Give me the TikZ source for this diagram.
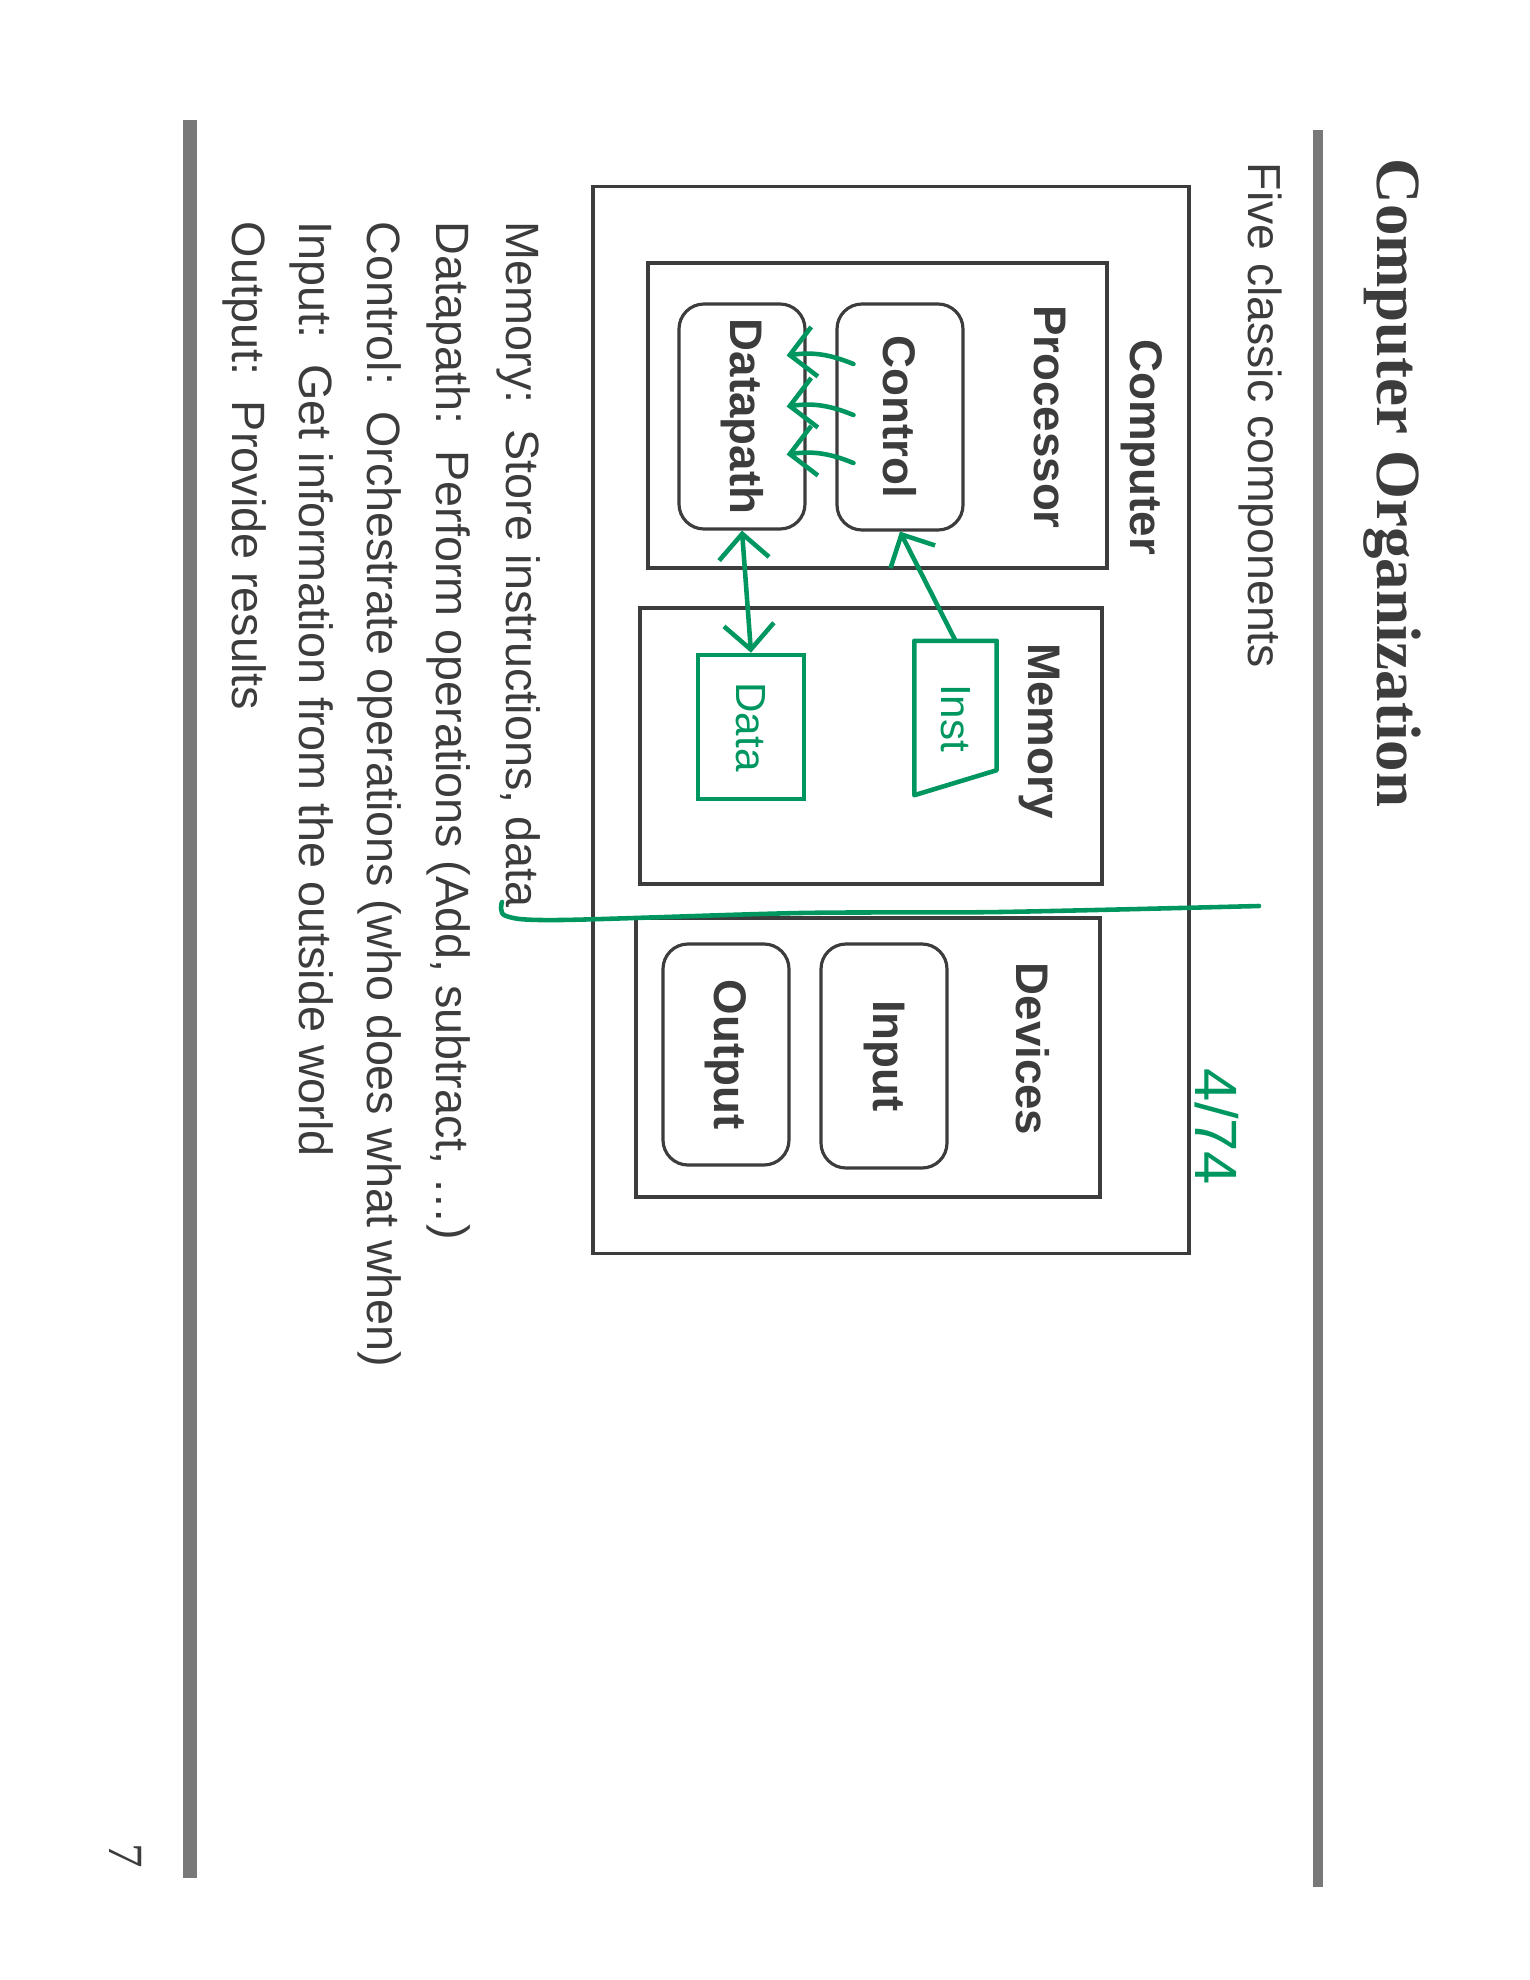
\documentclass[tikz,border=0pt]{standalone}
\usepackage{fontspec}
\setmainfont{Liberation Sans}
\newfontfamily\titlefont{Liberation Serif}
\usetikzlibrary{calc,arrows.meta}

\definecolor{ink}{RGB}{60,60,60}
\definecolor{marker}{RGB}{0,150,95}
\definecolor{bargray}{RGB}{120,120,120}

\tikzset{
  unit/.style={draw=ink,line width=0.9pt,rectangle,inner sep=0pt},
  part/.style={unit,rounded corners=2.5mm,text=ink,font=\fontsize{13}{15}\selectfont\bfseries},
  boxname/.style={text=ink,font=\fontsize{13}{15}\selectfont\bfseries,inner sep=0pt},
  textline/.style={text=ink,font=\fontsize{13.3}{16}\selectfont,anchor=base west,inner sep=0pt},
  hand/.style={draw=marker,line width=1.3pt,line cap=round,line join=round},
  handarrow/.style={hand,-{Straight Barb[length=2.5mm,width=5mm]}},
  handtext/.style={text=marker,font=\fontsize{12}{14}\selectfont,inner sep=0pt}
}

\begin{document}
\begin{tikzpicture}[x=1cm,y=1cm,rotate=-90,transform shape]
\useasboundingbox (0,0) rectangle (19.8,15.3);

% slide header
\node[anchor=base west,inner sep=0pt,text=ink,font=\titlefont\bfseries\fontsize{17.9}{20}\selectfont] (title) at (1.58,13.77) {Computer Organization};
\draw[line width=2.9pt,draw=bargray] (1.30,13.18) -- (18.87,13.18);
\node[anchor=west,inner sep=0pt,text=ink,font=\fontsize{13.2}{16}\selectfont] (intro) at (1.62,12.60) {Five classic components};

% the five components
\node[unit,minimum width=10.67cm,minimum height=5.96cm] (computer) at (7.2,8.91) {};
\node[boxname] (computerlbl) at (4.47,11.42) {Computer};

\node[unit,minimum width=3.05cm,minimum height=4.59cm] (processor) at (4.155,8.775) {};
\node[boxname] (processorlbl) at (4.17,10.50) {Processor};
\node[part,minimum width=2.26cm,minimum height=1.26cm] (control) at (4.17,9.0) {Control};
\node[part,minimum width=2.25cm,minimum height=1.26cm] (datapath) at (4.165,7.42) {Datapath};

\node[unit,minimum width=2.76cm,minimum height=4.62cm] (memory) at (7.46,8.71) {};
\node[boxname] (memorylbl) at (7.31,10.39) {Memory};

\node[unit,minimum width=2.79cm,minimum height=4.64cm] (devices) at (10.575,8.68) {};
\node[boxname] (deviceslbl) at (10.49,10.33) {Devices};
\node[part,minimum width=2.24cm,minimum height=1.26cm] (input) at (10.56,8.84) {Input};
\node[part,minimum width=2.21cm,minimum height=1.26cm] (output) at (10.545,7.26) {Output};

% notes in green
\node[handtext,minimum width=1.53cm,minimum height=0.81cm] (inst) at (7.18,9.555) {Inst};
\draw[hand] (inst.south west) -- (inst.north west) -- ($(inst.north east)+(-0.25,0)$) -- (inst.south east) -- cycle;
\node[handtext,draw=marker,line width=1.3pt,minimum width=1.44cm,minimum height=1.06cm] (data) at (7.27,7.51) {Data};

\draw[handarrow] (inst.west) -- (control.east);
\draw[hand,{Straight Barb[length=2.5mm,width=5mm]}-{Straight Barb[length=2.5mm,width=5mm]}] (datapath.east) -- (data.west);
\foreach \d in {-0.53,-0.02,0.46}
  \draw[handarrow] ($(control.south)+(\d,0.18)$) to[bend right=15] ($(datapath.north)+(\d-0.08,-0.2)$);

\draw[hand] plot[smooth] coordinates {(9.02,5.02) (9.16,5.06) (9.20,5.60) (9.13,8.00) (9.12,10.0) (9.06,12.59)};
\node[handtext,font=\fontsize{17}{20}\selectfont] (date) at (11.27,12.17) {4/74};

% what each one does
\node[textline] (memline) at (2.21,5.06) {Memory:\ \ Store instructions, data};
\node[textline] (dpline) at (2.21,4.36) {Datapath:\ \ Perform operations (Add, subtract, \ldots)};
\node[textline] (ctline) at (2.21,3.67) {Control:\ \ Orchestrate operations (who does what when)};
\node[textline] (inline) at (2.21,2.99) {Input:\ \ Get information from the outside world};
\node[textline] (outline) at (2.21,2.32) {Output:\ \ Provide results};

% footer
\draw[line width=3.7pt,draw=bargray] (1.20,1.90) -- (18.78,1.90);
\node[text=ink,font=\titlefont\fontsize{14}{16}\selectfont] (page) at (18.56,1.26) {7};
\end{tikzpicture}
\end{document}
